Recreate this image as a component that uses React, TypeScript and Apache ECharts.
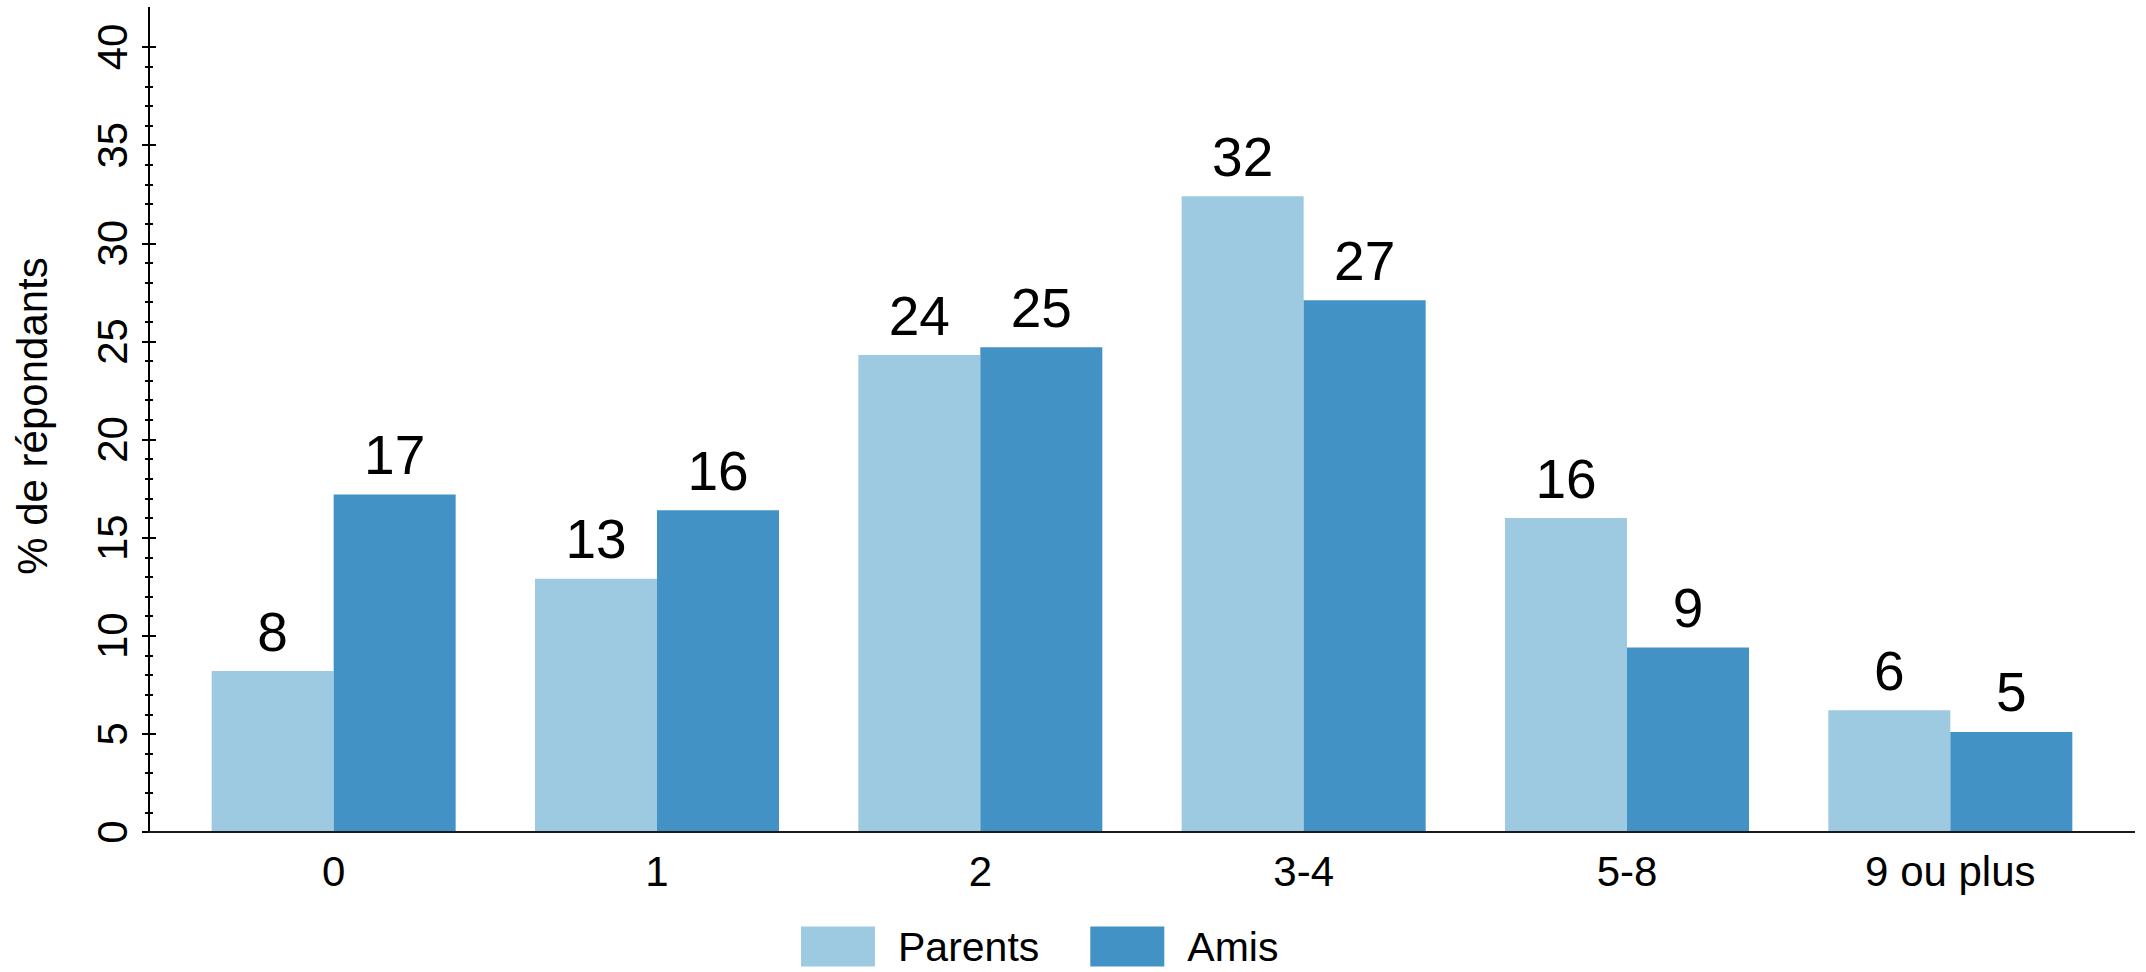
import React, { useEffect, useRef } from "react";
import * as echarts from "echarts";

const categories = ["0", "1", "2", "3-4", "5-8", "9 ou plus"];
const parentsValues = [8.2, 12.9, 24.3, 32.4, 16.0, 6.2];
const amisValues = [17.2, 16.4, 24.7, 27.1, 9.4, 5.1];
const seriesNames = ["Parents", "Amis"];
const yTitle = "% de répondants";

const FONT = "'Liberation Sans', Arial, sans-serif";

export default function App() {
  const ref = useRef<HTMLDivElement>(null);
  useEffect(() => {
    if (!ref.current) return;
    const chart = echarts.init(ref.current, undefined, { renderer: "svg" });
    const yBase = {
      type: "value",
      min: 0,
      max: 40,
      interval: 5,
      offset: 23,
      position: "left",
      splitLine: { show: false },
      axisLine: { show: false },
      minorSplitLine: { show: false },
    };
    const label = {
      show: true,
      position: "top",
      distance: 12,
      fontSize: 55,
      fontFamily: FONT,
      color: "#000",
      formatter: (p: any) => String(Math.round(p.value)),
    };
    chart.setOption({
      animation: false,
      textStyle: { fontFamily: FONT },
      grid: { left: 172, right: 34, top: 47, bottom: 140, containLabel: false },
      legend: {
        left: 801,
        top: 926,
        padding: 0,
        itemWidth: 74,
        itemHeight: 40,
        itemGap: 51,
        icon: "rect",
        textStyle: {
          fontSize: 41,
          lineHeight: 34,
          fontFamily: FONT,
          color: "#000",
          padding: [0, 0, 0, 18],
        },
        data: seriesNames,
      },
      xAxis: {
        type: "category",
        data: categories,
        axisLine: { show: false },
        axisTick: { show: false },
        axisLabel: { fontSize: 42, fontFamily: FONT, color: "#000", margin: 18 },
      },
      yAxis: [
        {
          ...yBase,
          axisTick: { show: true, inside: false, length: 7, lineStyle: { color: "#000", width: 2 } },
          minorTick: { show: true, splitNumber: 5, length: 4, lineStyle: { color: "#000", width: 2 } },
          axisLabel: { fontSize: 42, fontFamily: FONT, color: "#000", rotate: 90, margin: 16 },
        },
        {
          ...yBase,
          axisTick: { show: true, inside: true, length: 7, lineStyle: { color: "#000", width: 2 } },
          minorTick: { show: true, splitNumber: 5, length: 4, lineStyle: { color: "#000", width: 2 } },
          axisLabel: { show: false },
        },
      ],
      series: [
        {
          name: seriesNames[0],
          type: "bar",
          data: parentsValues,
          barWidth: 122,
          barGap: "0%",
          itemStyle: { color: "#9ecae1" },
          label,
        },
        {
          name: seriesNames[1],
          type: "bar",
          data: amisValues,
          barWidth: 122,
          barGap: "0%",
          itemStyle: { color: "#4292c6" },
          label,
        },
      ],
      graphic: [
        {
          type: "line",
          z: 100,
          shape: { x1: 149, y1: 7, x2: 149, y2: 833 },
          style: { stroke: "#000", lineWidth: 2 },
        },
        {
          type: "line",
          z: 100,
          shape: { x1: 148, y1: 832, x2: 2135, y2: 832 },
          style: { stroke: "#1a1a1a", lineWidth: 2 },
        },
        {
          type: "text",
          x: 32,
          y: 416,
          rotation: Math.PI / 2,
          style: {
            text: yTitle,
            fontSize: 42,
            fontFamily: FONT,
            fill: "#000",
            align: "center",
            verticalAlign: "middle",
          },
        },
      ],
    });
    return () => chart.dispose();
  }, []);
  return (
    <div
      ref={ref}
      style={{ position: "fixed", left: 0, top: 0, width: 2146, height: 972, background: "#fff" }}
    />
  );
}
